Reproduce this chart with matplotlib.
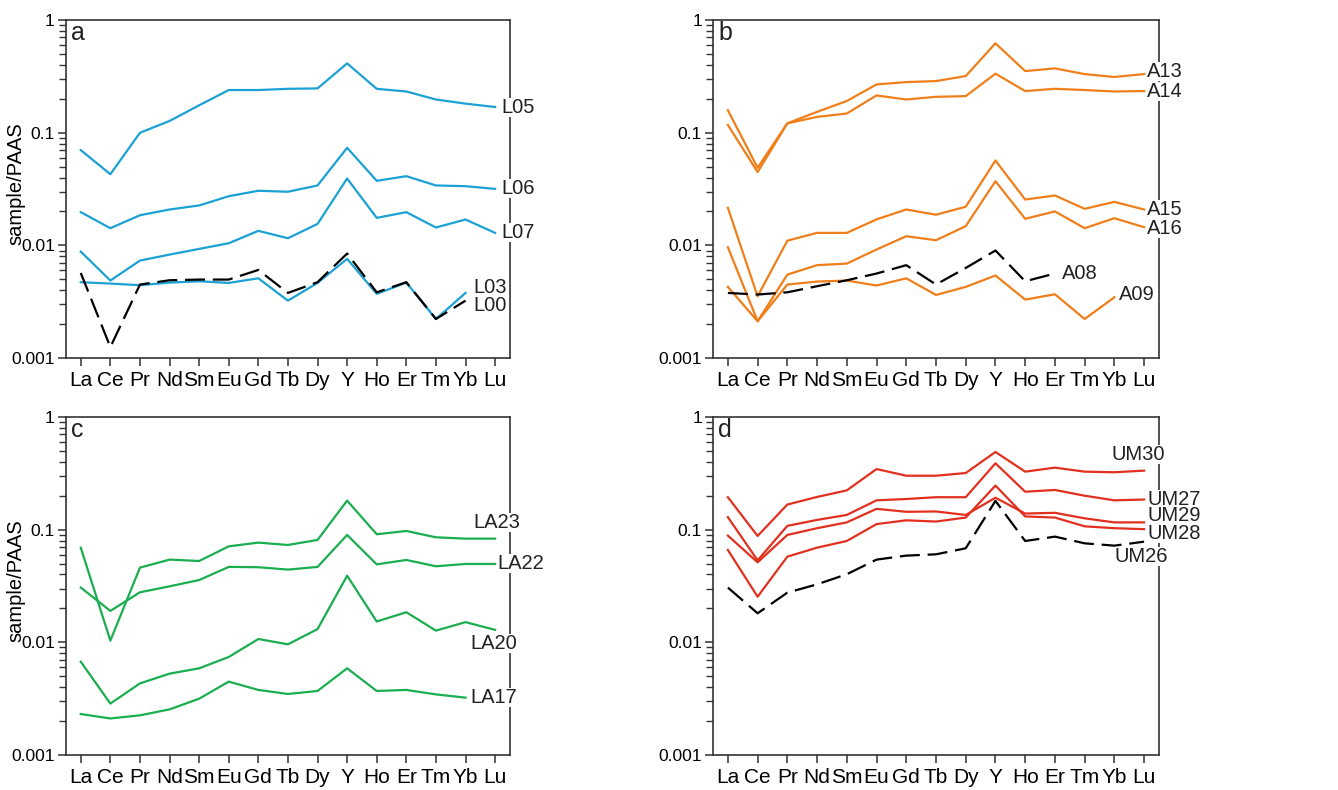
import matplotlib
matplotlib.use("Agg")
import matplotlib.pyplot as plt
from matplotlib.ticker import FixedLocator, FixedFormatter, LogLocator, NullFormatter

NARROW = ["Liberation Sans Narrow", "Liberation Sans", "DejaVu Sans"]
REGULAR = ["Liberation Sans", "DejaVu Sans"]
plt.rcParams["font.family"] = NARROW

elements = ["La", "Ce", "Pr", "Nd", "Sm", "Eu", "Gd", "Tb", "Dy", "Y",
            "Ho", "Er", "Tm", "Yb", "Lu"]

# panel a (cyan)
L05 = [0.070, 0.0428, 0.0998, 0.127, 0.175, 0.239, 0.239, 0.245, 0.247, 0.412,
       0.245, 0.232, 0.197, 0.181, 0.169]
L06 = [0.0197, 0.0142, 0.0185, 0.0208, 0.0226, 0.0273, 0.0305, 0.0299, 0.034, 0.0734,
       0.0374, 0.0411, 0.034, 0.0335, 0.0317]
L07 = [0.0088, 0.00487, 0.00733, 0.00828, 0.0093, 0.01044, 0.01345, 0.01156, 0.0155, 0.0392,
       0.01754, 0.0197, 0.0144, 0.01695, 0.0129]
L03 = [0.00471, 0.00458, 0.00443, 0.00467, 0.0048, 0.00464, 0.0051, 0.00323, 0.00464, 0.00759,
       0.00371, 0.00467, 0.00222, 0.00378]
L00 = [0.00569, 0.00125, 0.00449, 0.0049, 0.00497, 0.00497, 0.00605, 0.00378, 0.00471, 0.00846,
       0.00383, 0.00471, 0.00222, 0.00323]

# panel b (orange)
A13 = [0.158, 0.0488, 0.121, 0.153, 0.191, 0.268, 0.281, 0.287, 0.318, 0.621,
       0.352, 0.372, 0.331, 0.312, 0.331]
A14 = [0.117, 0.0447, 0.121, 0.138, 0.148, 0.214, 0.197, 0.208, 0.211, 0.334,
       0.234, 0.245, 0.239, 0.232, 0.234]
A15 = [0.0215, 0.00353, 0.0110, 0.0129, 0.0129, 0.0170, 0.0208, 0.0187, 0.022, 0.0566,
       0.0255, 0.0277, 0.0211, 0.0243, 0.0208]
A16 = [0.00962, 0.00212, 0.0055, 0.00667, 0.00689, 0.00918, 0.01205, 0.0111, 0.0148, 0.0371,
       0.0172, 0.020, 0.0142, 0.0174, 0.0145]
A09 = [0.00428, 0.00212, 0.00449, 0.00477, 0.00487, 0.0044, 0.0051, 0.00363, 0.00428, 0.0054,
       0.0033, 0.00368, 0.00222, 0.00346]
A08 = [0.00378, 0.00366, 0.00383, 0.00434, 0.0049, 0.00562, 0.00667, 0.00449, 0.0063, 0.009,
       0.0048, 0.00562]

# panel c (green)
LA23 = [0.0692, 0.01035, 0.046, 0.0542, 0.0527, 0.0711, 0.0767, 0.0731, 0.081, 0.181,
        0.091, 0.0973, 0.0855, 0.0832, 0.0832]
LA22 = [0.0306, 0.019, 0.0278, 0.0314, 0.0357, 0.0467, 0.0464, 0.0442, 0.0467, 0.0897,
        0.0492, 0.0538, 0.0473, 0.0496, 0.0496]
LA20 = [0.00673, 0.00286, 0.00432, 0.00527, 0.00588, 0.00741, 0.0107, 0.0096, 0.0131, 0.039,
        0.0153, 0.0185, 0.0127, 0.0151, 0.0129]
LA17 = [0.00231, 0.00211, 0.00225, 0.00254, 0.00316, 0.00448, 0.00378, 0.00348, 0.0037, 0.00588,
        0.0037, 0.00378, 0.00345, 0.00323]

# panel d (red)
UM30 = [0.194, 0.0879, 0.167, 0.195, 0.223, 0.345, 0.301, 0.301, 0.318, 0.489,
        0.327, 0.355, 0.327, 0.323, 0.334]
UM27 = [0.129, 0.0534, 0.108, 0.122, 0.135, 0.182, 0.187, 0.194, 0.194, 0.388,
        0.217, 0.225, 0.200, 0.182, 0.185]
UM29 = [0.0885, 0.0513, 0.0897, 0.103, 0.116, 0.153, 0.144, 0.145, 0.135, 0.192,
        0.139, 0.141, 0.126, 0.116, 0.116]
UM28 = [0.066, 0.0254, 0.0576, 0.0692, 0.0793, 0.112, 0.121, 0.118, 0.128, 0.246,
        0.131, 0.128, 0.107, 0.103, 0.101]
UM26 = [0.0306, 0.0181, 0.0276, 0.0327, 0.0402, 0.0542, 0.0588, 0.0604, 0.0683, 0.180,
        0.0793, 0.0867, 0.0756, 0.0721, 0.0782]

CYAN = "#1ba1d4"
ORANGE = "#f07f1a"
GREEN = "#1aae50"
RED = "#e2301f"

# (letter, axes rect, show ylabel, lines, labels)
panels = [
    ("a", [0.0493, 0.5468, 0.3318, 0.4279], True,
     [(L05, CYAN, False), (L06, CYAN, False), (L07, CYAN, False),
      (L00, "black", True), (L03, CYAN, False)],
     [("L05", 14.2, 0.166), ("L06", 14.2, 0.0317), ("L07", 14.2, 0.0129),
      ("L03", 13.25, 0.00419), ("L00", 13.25, 0.0029)]),
    ("b", [0.5329, 0.5468, 0.3333, 0.4279], False,
     [(A13, ORANGE, False), (A14, ORANGE, False), (A15, ORANGE, False),
      (A16, ORANGE, False), (A09, ORANGE, False), (A08, "black", True)],
     [("A13", 14.1, 0.346), ("A14", 14.1, 0.234), ("A15", 14.1, 0.021),
      ("A16", 14.1, 0.014), ("A08", 11.24, 0.00557), ("A09", 13.16, 0.00363)]),
    ("c", [0.0493, 0.0443, 0.3318, 0.4279], True,
     [(LA23, GREEN, False), (LA22, GREEN, False), (LA20, GREEN, False),
      (LA17, GREEN, False)],
     [("LA23", 13.25, 0.1147), ("LA22", 14.06, 0.0496), ("LA20", 13.18, 0.00968),
      ("LA17", 13.18, 0.00321)]),
    ("d", [0.5329, 0.0443, 0.3333, 0.4279], False,
     [(UM30, RED, False), (UM27, RED, False), (UM29, RED, False),
      (UM28, RED, False), (UM26, "black", True)],
     [("UM30", 12.89, 0.46), ("UM27", 14.1, 0.187), ("UM29", 14.1, 0.134),
      ("UM28", 14.1, 0.092), ("UM26", 13.02, 0.0573)]),
]

fig = plt.figure(figsize=(13.38, 7.9), dpi=100)

for letter, rect, show_ylabel, lines, labels in panels:
    ax = fig.add_axes(rect)
    for values, color, dashed in lines:
        x = list(range(len(values)))
        if dashed:
            ax.plot(x, values, color=color, lw=1.6, dashes=(9, 3.5), zorder=3)
        else:
            ax.plot(x, values, color=color, lw=1.6, zorder=2)
    for text, tx, ty in labels:
        ax.text(tx, ty, text, fontsize=14.5, va="center", ha="left", color="#222222",
                bbox=dict(facecolor="white", edgecolor="none", pad=0.0), zorder=5,
                clip_on=False)
    ax.set_yscale("log")
    ax.set_ylim(0.001, 1)
    ax.set_xlim(-0.5, 14.5)
    ax.set_xticks(range(len(elements)))
    ax.set_xticklabels(elements, fontsize=15)
    ax.yaxis.set_major_locator(FixedLocator([0.001, 0.01, 0.1, 1]))
    ax.yaxis.set_major_formatter(FixedFormatter(["0.001", "0.01", "0.1", "1"]))
    ax.yaxis.set_minor_locator(LogLocator(base=10, subs=range(2, 10)))
    ax.yaxis.set_minor_formatter(NullFormatter())
    for lab in ax.get_yticklabels():
        lab.set_family(REGULAR)
    ax.tick_params(axis="y", which="major", labelsize=12.5, length=6, width=1.1,
                   color="#333333", pad=2)
    ax.tick_params(axis="y", which="minor", length=5, width=1.0, color="#333333")
    ax.tick_params(axis="x", which="major", length=6, width=1.1, color="#333333", pad=3)
    ax.tick_params(top=False, right=False)
    for sp in ax.spines.values():
        sp.set_color("#333333")
        sp.set_linewidth(1.2)
    ax.text(0.012, 0.998, letter, transform=ax.transAxes, fontsize=18,
            va="top", ha="left", color="#222222")
    if show_ylabel:
        ax.set_ylabel("sample/PAAS", fontsize=14.5, family=REGULAR)
        ax.yaxis.set_label_coords(-0.092, 0.515)

fig.savefig("out.png", dpi=100)
